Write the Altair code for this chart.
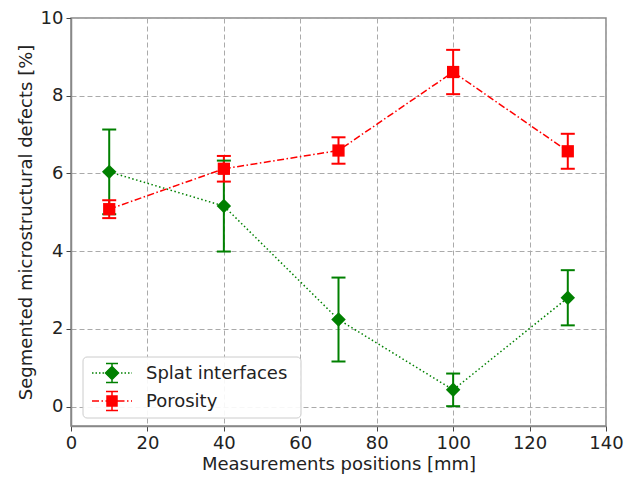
import altair as alt
import pandas as pd

# ---- data ----
positions = [10, 40, 70, 100, 130]
splat_vals = [6.04, 5.16, 2.24, 0.43, 2.80]
splat_errs = [1.09, 1.17, 1.08, 0.42, 0.71]
poro_vals = [5.08, 6.12, 6.59, 8.61, 6.57]
poro_errs = [0.23, 0.33, 0.34, 0.57, 0.45]
series_names = ["Splat interfaces", "Porosity"]
series_colors = ["#008000", "#ff0000"]
x_ticks = [0, 20, 40, 60, 80, 100, 120, 140]
y_ticks = [0, 2, 4, 6, 8, 10]

rows = []
for name, vals, errs in [(series_names[0], splat_vals, splat_errs),
                         (series_names[1], poro_vals, poro_errs)]:
    for p, v, e in zip(positions, vals, errs):
        rows.append({"pos": p, "val": v, "lo": v - e, "hi": v + e, "series": name})
df = pd.DataFrame(rows)
leg_df = pd.DataFrame({"series": series_names})

FONT = "DejaVu Sans"
FS = 18


# ---- legend glyph paths (style only) ----
def seg_path(pattern, start, end):
    parts = []
    x = start
    i = 0
    while x < end:
        ln = pattern[i % len(pattern)]
        if i % 2 == 0:
            x2 = min(x + ln, end)
            parts.append(f"M{x:.3f},0L{x2:.3f},0")
        x += ln
        i += 1
    return "".join(parts)


def glyph(pattern, marker):
    line = seg_path(pattern, -2.0, -0.55) + seg_path(pattern, 0.55, 2.0)
    bar = "M0,-0.95L0,0.95M-0.6,-0.95L0.6,-0.95M-0.6,0.95L0.6,0.95"
    return line + bar + marker


glyph_paths = [glyph([0.15, 0.2], "M0,-0.65L0.65,0L0,0.65L-0.65,0Z"),
               glyph([0.7, 0.25, 0.15, 0.25], "M-0.5,-0.5L0.5,-0.5L0.5,0.5L-0.5,0.5Z")]

xs = alt.Scale(domain=[0, 140], nice=False, zero=False)
ys = alt.Scale(domain=[-0.5, 10], nice=False, zero=False)
cscale = alt.Scale(domain=series_names, range=series_colors)

X = alt.X("pos:Q", scale=xs,
          axis=alt.Axis(values=x_ticks, title="Measurements positions [mm]", format="d"))
Y = alt.Y("val:Q", scale=ys,
          axis=alt.Axis(values=y_ticks, title="Segmented microstructural defects [%]", format="d"))
C = alt.Color("series:N", scale=cscale, legend=None)

base = alt.Chart(df)

lines = base.mark_line(strokeWidth=1.5).encode(
    x=X, y=Y, color=C,
    strokeDash=alt.StrokeDash("series:N",
                              scale=alt.Scale(domain=series_names,
                                              range=[[1.5, 2.5], [7, 2.5, 1.5, 2.5]]),
                              legend=None),
    detail="series:N",
)

bars = base.mark_rule(strokeWidth=2).encode(x=X, y=alt.Y("lo:Q", scale=ys), y2="hi:Q", color=C)

caps_lo = base.mark_point(shape="stroke", filled=False, size=196, strokeWidth=2, opacity=1).encode(
    x=X, y=alt.Y("lo:Q", scale=ys), color=C)
caps_hi = base.mark_point(shape="stroke", filled=False, size=196, strokeWidth=2, opacity=1).encode(
    x=X, y=alt.Y("hi:Q", scale=ys), color=C)

pts_green = base.transform_filter(alt.datum.series == series_names[0]).mark_point(
    filled=True, opacity=1, shape="diamond", size=210).encode(x=X, y=Y, color=C)
pts_red = base.transform_filter(alt.datum.series == series_names[1]).mark_point(
    filled=True, opacity=1, shape="square", size=150).encode(x=X, y=Y, color=C)

# ---- legend drawn as a small layered box ----
leg_base = alt.Chart(leg_df)
leg_box = leg_base.transform_filter(alt.datum.series == series_names[0]).mark_rect(
    fill="white", fillOpacity=0.9, stroke="#cccccc", strokeWidth=1, cornerRadius=4
).encode(x=alt.value(12), x2=alt.value(230), y=alt.value(339), y2=alt.value(400))

leg_layers = [leg_box]
row_y = [355, 383]
for i, name in enumerate(series_names):
    sel = leg_base.transform_filter(alt.datum.series == name)
    leg_layers.append(sel.mark_point(shape=glyph_paths[i], size=400, filled=True,
                                     fill=series_colors[i], stroke=series_colors[i],
                                     strokeWidth=1.5, opacity=1, fillOpacity=1)
                      .encode(x=alt.value(41), y=alt.value(row_y[i])))
    leg_layers.append(sel.mark_text(align="left", baseline="middle", font=FONT, fontSize=FS,
                                    color="#222222")
                      .encode(x=alt.value(75), y=alt.value(row_y[i] + 1), text="series:N"))

chart = alt.layer(lines, bars, caps_lo, caps_hi, pts_green, pts_red, *leg_layers).properties(
    width=535, height=408,
    autosize=alt.AutoSizeParams(type="none"),
    padding={"left": 63, "top": 10, "right": 20, "bottom": 50},
).configure_view(
    stroke="#888888", strokeWidth=1.5
).configure_axis(
    labelFont=FONT, labelFontSize=FS, labelColor="#222222",
    titleFont=FONT, titleFontSize=FS, titleFontWeight="normal", titleColor="#222222",
    grid=True, gridColor="#aaaaaa", gridDash=[5, 3], gridWidth=1,
    domainColor="#888888", domainWidth=1.5,
    tickColor="#444444", tickSize=5, tickWidth=1, labelPadding=3,
).configure_axisX(titlePadding=3, labelFlush=False, labelOverlap=False
).configure_axisY(titlePadding=5, labelOverlap=False)

chart.save("out.html", embed_options={"renderer": "svg", "actions": False})
